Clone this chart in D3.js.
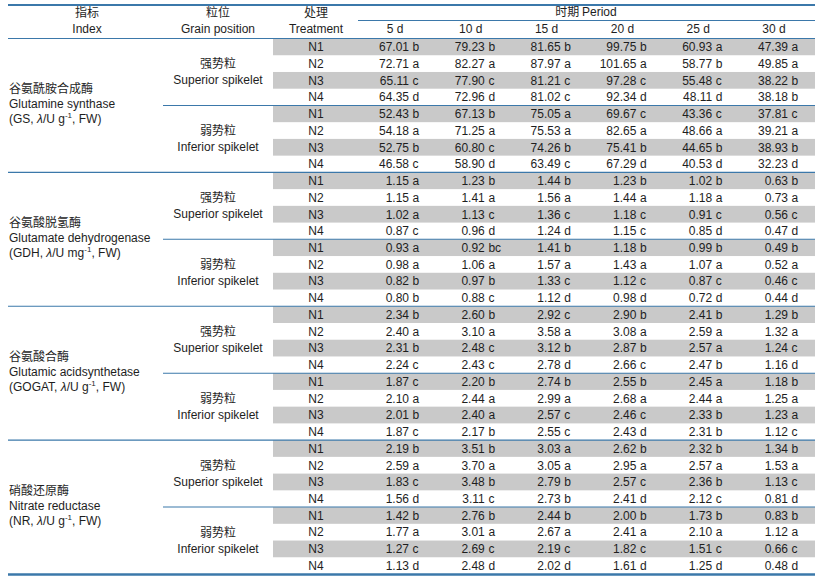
<!DOCTYPE html>
<html>
<head>
<meta charset="utf-8">
<script src="https://cdn.jsdelivr.net/npm/d3@7"></script>
<style>
  html, body { margin: 0; padding: 0; background: #fff; }
  svg { display: block; }
  text { font-family: "Liberation Sans", Arial, "Noto Sans CJK SC", sans-serif; font-size: 12px; fill: #1e1e1e; }
  .zh { font-family: "Noto Sans CJK SC", "Liberation Sans", sans-serif; font-size: 12px; }
</style>
</head>
<body>
<svg id="chart" width="821" height="578"></svg>
<script>
// ---------------- DATA ----------------
const periods = ["5 d", "10 d", "15 d", "20 d", "25 d", "30 d"];
const treatments = ["N1", "N2", "N3", "N4"];
const positionsZh = ["强势粒", "弱势粒"];
const positionsEn = ["Superior spikelet", "Inferior spikelet"];
const indexZh = ["谷氨酰胺合成酶", "谷氨酸脱氢酶", "谷氨酸合酶", "硝酸还原酶"];
const indexEn = ["Glutamine synthase", "Glutamate dehydrogenase", "Glutamic acidsynthetase", "Nitrate reductase"];
const indexAbbr = ["GS", "GDH", "GOGAT", "NR"];
const indexMass = ["g", "mg", "g", "g"];

// rows: superior N1..N4, inferior N1..N4 ; columns: periods
const gsValues = [
  [67.01, 79.23, 81.65, 99.75, 60.93, 47.39],
  [72.71, 82.27, 87.97, 101.65, 58.77, 49.85],
  [65.11, 77.90, 81.21, 97.28, 55.48, 38.22],
  [64.35, 72.96, 81.02, 92.34, 48.11, 38.18],
  [52.43, 67.13, 75.05, 69.67, 43.36, 37.81],
  [54.18, 71.25, 75.53, 82.65, 48.66, 39.21],
  [52.75, 60.80, 74.26, 75.41, 44.65, 38.93],
  [46.58, 58.90, 63.49, 67.29, 40.53, 32.23]
];
const gsLetters = [
  ["b", "b", "b", "b", "a", "a"],
  ["a", "a", "a", "a", "b", "a"],
  ["c", "c", "c", "c", "c", "b"],
  ["d", "d", "c", "d", "d", "b"],
  ["b", "b", "a", "c", "c", "c"],
  ["a", "a", "a", "a", "a", "a"],
  ["b", "c", "b", "b", "b", "b"],
  ["c", "d", "c", "d", "d", "d"]
];
const gdhValues = [
  [1.15, 1.23, 1.44, 1.23, 1.02, 0.63],
  [1.15, 1.41, 1.56, 1.44, 1.18, 0.73],
  [1.02, 1.13, 1.36, 1.18, 0.91, 0.56],
  [0.87, 0.96, 1.24, 1.15, 0.85, 0.47],
  [0.93, 0.92, 1.41, 1.18, 0.99, 0.49],
  [0.98, 1.06, 1.57, 1.43, 1.07, 0.52],
  [0.82, 0.97, 1.33, 1.12, 0.87, 0.46],
  [0.80, 0.88, 1.12, 0.98, 0.72, 0.44]
];
const gdhLetters = [
  ["a", "b", "b", "b", "b", "b"],
  ["a", "a", "a", "a", "a", "a"],
  ["a", "c", "c", "c", "c", "c"],
  ["c", "d", "d", "c", "d", "d"],
  ["a", "bc", "b", "b", "b", "b"],
  ["a", "a", "a", "a", "a", "a"],
  ["b", "b", "c", "c", "c", "c"],
  ["b", "c", "d", "d", "d", "d"]
];
const gogatValues = [
  [2.34, 2.60, 2.92, 2.90, 2.41, 1.29],
  [2.40, 3.10, 3.58, 3.08, 2.59, 1.32],
  [2.31, 2.48, 3.12, 2.87, 2.57, 1.24],
  [2.24, 2.43, 2.78, 2.66, 2.47, 1.16],
  [1.87, 2.20, 2.74, 2.55, 2.45, 1.18],
  [2.10, 2.44, 2.99, 2.68, 2.44, 1.25],
  [2.01, 2.40, 2.57, 2.46, 2.33, 1.23],
  [1.87, 2.17, 2.55, 2.43, 2.31, 1.12]
];
const gogatLetters = [
  ["b", "b", "c", "b", "b", "b"],
  ["a", "a", "a", "a", "a", "a"],
  ["b", "c", "b", "b", "a", "c"],
  ["c", "c", "d", "c", "b", "d"],
  ["c", "b", "b", "b", "a", "b"],
  ["a", "a", "a", "a", "a", "a"],
  ["b", "a", "c", "c", "b", "a"],
  ["c", "b", "c", "d", "b", "c"]
];
const nrValues = [
  [2.19, 3.51, 3.03, 2.62, 2.32, 1.34],
  [2.59, 3.70, 3.05, 2.95, 2.57, 1.53],
  [1.83, 3.48, 2.79, 2.57, 2.36, 1.13],
  [1.56, 3.11, 2.73, 2.41, 2.12, 0.81],
  [1.42, 2.76, 2.44, 2.00, 1.73, 0.83],
  [1.77, 3.01, 2.67, 2.41, 2.10, 1.12],
  [1.27, 2.69, 2.19, 1.82, 1.51, 0.66],
  [1.13, 2.48, 2.02, 1.61, 1.25, 0.48]
];
const nrLetters = [
  ["b", "b", "a", "b", "b", "b"],
  ["a", "a", "a", "a", "a", "a"],
  ["c", "b", "b", "c", "b", "c"],
  ["d", "c", "b", "d", "c", "d"],
  ["b", "b", "b", "b", "b", "b"],
  ["a", "a", "a", "a", "a", "a"],
  ["c", "c", "c", "c", "c", "c"],
  ["d", "d", "d", "d", "d", "d"]
];

// ---------------- LAYOUT ----------------
const blocksValues = [gsValues, gdhValues, gogatValues, nrValues];
const blocksLetters = [gsLetters, gdhLetters, gogatLetters, nrLetters];

const svg = d3.select("#chart");
const W = 821;
const left = 8, right = 815;
const lineColor = "#3b78aa";
const shade = "#c9c9c9";

const nRows = indexZh.length * positionsZh.length * treatments.length;
const y = d3.scaleBand().domain(d3.range(nRows)).range([38.5, 574]).padding(0);
const x = d3.scalePoint().domain(periods).range([409, 788]);
const fmt = d3.format(".2f");

const rows = [];
blocksValues.forEach((vals, b) => {
  vals.forEach((r, i) => {
    rows.push({
      idx: b * 8 + i,
      block: b,
      pos: Math.floor(i / 4),
      treat: treatments[i % 4],
      shaded: (i % 2) === 0,
      values: r,
      letters: blocksLetters[b][i]
    });
  });
});

// shading
svg.append("g").selectAll("rect")
  .data(rows.filter(d => d.shaded))
  .join("rect")
  .attr("x", 273)
  .attr("y", d => y(d.idx))
  .attr("width", right - 273)
  .attr("height", y.bandwidth())
  .attr("fill", shade);

// header
const hdr = svg.append("g");
hdr.append("text").attr("class", "zh").attr("x", 87).attr("y", 17).attr("text-anchor", "middle").text("指标");
hdr.append("text").attr("x", 87).attr("y", 33).attr("text-anchor", "middle").text("Index");
hdr.append("text").attr("class", "zh").attr("x", 218).attr("y", 17).attr("text-anchor", "middle").text("粒位");
hdr.append("text").attr("x", 218).attr("y", 33).attr("text-anchor", "middle").text("Grain position");
hdr.append("text").attr("class", "zh").attr("x", 316).attr("y", 17).attr("text-anchor", "middle").text("处理");
hdr.append("text").attr("x", 316).attr("y", 33).attr("text-anchor", "middle").text("Treatment");
const ph = hdr.append("text").attr("x", 586).attr("y", 16).attr("text-anchor", "middle");
ph.append("tspan").attr("class", "zh").text("时期 ");
ph.append("tspan").text("Period");
hdr.selectAll("text.period")
  .data(periods)
  .join("text")
  .attr("class", "period")
  .attr("x", d => x(d) - 14)
  .attr("y", 33)
  .attr("text-anchor", "middle")
  .text(d => d);

// body cells
const body = svg.append("g");
const rowG = body.selectAll("g.row")
  .data(rows)
  .join("g")
  .attr("class", "row")
  .attr("transform", d => `translate(0,${y(d.idx) + y.bandwidth() / 2 + 4.3})`);

rowG.append("text")
  .attr("x", 316)
  .attr("text-anchor", "middle")
  .text(d => d.treat);

rowG.selectAll("text.num")
  .data(d => d.values.map((v, k) => ({ v, l: d.letters[k], p: periods[k] })))
  .join("text")
  .attr("class", "num")
  .attr("x", d => x(d.p))
  .attr("text-anchor", "end")
  .text(d => fmt(d.v));

rowG.selectAll("text.sig")
  .data(d => d.values.map((v, k) => ({ v, l: d.letters[k], p: periods[k] })))
  .join("text")
  .attr("class", "sig")
  .attr("x", d => x(d.p) + 3.6)
  .attr("text-anchor", "start")
  .text(d => d.l);

// grain position labels
const posData = [];
indexZh.forEach((_, b) => positionsZh.forEach((_, p) => posData.push({ b, p, idx: b * 8 + p * 4 })));
const posG = svg.append("g").selectAll("g")
  .data(posData)
  .join("g")
  .attr("transform", d => `translate(218,${y(d.idx) + 2 * y.bandwidth()})`);
posG.append("text").attr("class", "zh").attr("y", -3.5).attr("text-anchor", "middle").text(d => positionsZh[d.p]);
posG.append("text").attr("y", 12).attr("text-anchor", "middle").text(d => positionsEn[d.p]);

// index labels
const idxG = svg.append("g").selectAll("g")
  .data(indexZh.map((z, b) => ({ b })))
  .join("g")
  .attr("transform", d => `translate(9,${y(d.b * 8) + 4 * y.bandwidth()})`);
idxG.append("text").attr("class", "zh").attr("y", -12).text(d => indexZh[d.b]);
idxG.append("text").attr("y", 3).text(d => indexEn[d.b]);
const unit = idxG.append("text").attr("y", 18);
unit.append("tspan").text(d => ` (${indexAbbr[d.b]}, `);
unit.append("tspan").attr("font-style", "italic").text("λ");
unit.append("tspan").text(d => `/U ${indexMass[d.b]}`);
unit.append("tspan").attr("font-size", "8px").attr("dy", -5).text("-1");
unit.append("tspan").attr("dy", 5).text(", FW)");

// rules
const rules = svg.append("g").attr("stroke", lineColor).attr("fill", "none");
rules.append("line").attr("x1", left).attr("x2", right).attr("y1", 5).attr("y2", 5).attr("stroke-width", 2.2);
rules.append("line").attr("x1", 358).attr("x2", right).attr("y1", 20.5).attr("y2", 20.5).attr("stroke-width", 1.1);
rules.append("line").attr("x1", left).attr("x2", right).attr("y1", 38.5).attr("y2", 38.5).attr("stroke-width", 1.1);
rules.selectAll("line.grp")
  .data(d3.range(1, indexZh.length))
  .join("line")
  .attr("class", "grp")
  .attr("x1", left).attr("x2", right)
  .attr("y1", b => y(b * 8)).attr("y2", b => y(b * 8))
  .attr("stroke-width", 1.1);
rules.selectAll("line.sub")
  .data(d3.range(indexZh.length))
  .join("line")
  .attr("class", "sub")
  .attr("x1", 163).attr("x2", right)
  .attr("y1", b => y(b * 8 + 4)).attr("y2", b => y(b * 8 + 4))
  .attr("stroke-width", 1.1);
rules.append("line").attr("x1", left).attr("x2", right).attr("y1", 574.5).attr("y2", 574.5).attr("stroke-width", 2.6);
</script>
</body>
</html>
